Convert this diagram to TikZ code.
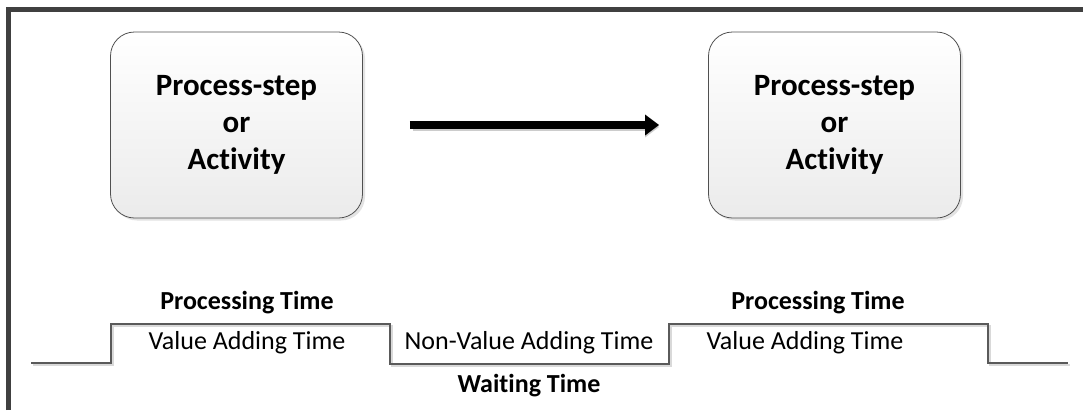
\documentclass[tikz,border=0pt]{standalone}
\usepackage{fontspec}
\setmainfont{Carlito}[Ligatures=NoCommon]
\usetikzlibrary{arrows.meta,shadows}
\definecolor{framegray}{HTML}{404040}
\definecolor{edgegray}{HTML}{505050}
\definecolor{linegray}{HTML}{5A5A5A}
\definecolor{boxbottom}{HTML}{EBEBEB}
\tikzset{
  stepbox/.style={draw=edgegray, line width=0.8pt, rounded corners=24pt,
    minimum width=252pt, minimum height=186pt, top color=white, bottom color=boxbottom,
    drop shadow={shadow xshift=2.5pt, shadow yshift=-2.5pt, fill=black!18, opacity=0.6},
    align=center, font=\fontsize{31}{37}\selectfont\bfseries, inner sep=0pt},
  flowarrow/.style={line width=8pt, -{Triangle[length=14pt,width=20pt]}},
  timeline/.style={draw=linegray, line width=1.5pt},
  timeshadow/.style={draw=black!15, line width=1.5pt},
  boldlabel/.style={font=\fontsize{26}{28}\selectfont\bfseries, inner sep=0pt},
  plainlabel/.style={font=\fontsize{26}{28}\selectfont, inner sep=0pt}
}
\begin{document}
\begin{tikzpicture}[x=1pt, y=-1pt]
\useasboundingbox (0,0) rectangle (1083,410);
\fill[white] (0,0) rectangle (1083,410);
% frame on the top and left edges
\draw[framegray, line width=5pt] (8,410) -- (8,9.5) -- (1083,9.5);

% the two process steps
\node[stepbox] (s1) at (236.5,125) {Process-step\\or\\Activity};
\node[stepbox] (s2) at (834.5,125) {Process-step\\or\\Activity};
\draw[black!20, line width=8pt, shorten <=48pt, shorten >=51pt, transform canvas={xshift=2pt,yshift=-2pt}, -{Triangle[length=14pt,width=20pt]}] (s1.east) -- (s2.west);
\draw[flowarrow, shorten <=47pt, shorten >=49pt] (s1.east) -- (s2.west);

% time line
\coordinate (t0) at (31,363);
\coordinate (t1) at (111,363);
\coordinate (t2) at (111,324);
\coordinate (t3) at (390,324);
\coordinate (t4) at (390,364);
\coordinate (t5) at (669,364);
\coordinate (t6) at (669,324);
\coordinate (t7) at (988,324);
\coordinate (t8) at (988,363);
\coordinate (t9) at (1068,363);
\draw[timeshadow, transform canvas={xshift=2pt,yshift=-2pt}] (t0) -- (t1) -- (t2) -- (t3) -- (t4) -- (t5) -- (t6) -- (t7) -- (t8) -- (t9);
\draw[timeline] (t0) -- (t1) -- (t2) -- (t3) -- (t4) -- (t5) -- (t6) -- (t7) -- (t8) -- (t9);

% labels
\node[boldlabel] (p1) at (247,303) {Processing Time};
\node[plainlabel] (v1) at (247,343) {Value Adding Time};
\node[plainlabel] (nv) at (529,343) {Non-Value Adding Time};
\node[boldlabel] (w) at (529,386) {Waiting Time};
\node[boldlabel] (p2) at (818,303) {Processing Time};
\node[plainlabel] (v2) at (805,343) {Value Adding Time};
\end{tikzpicture}
\end{document}
